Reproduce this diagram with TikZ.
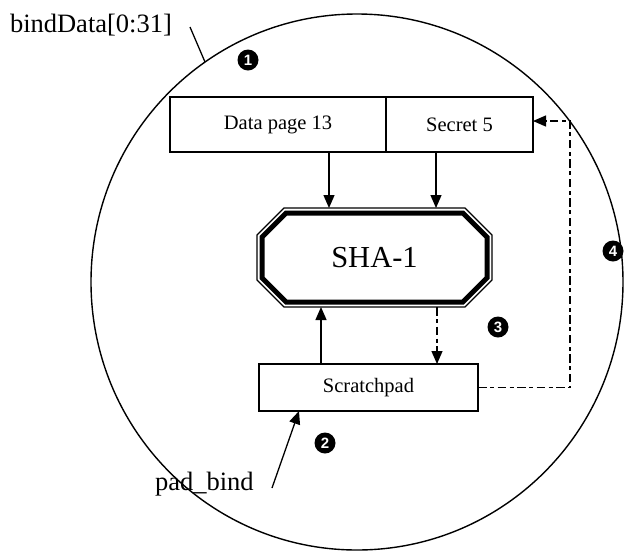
\documentclass[tikz,border=0pt]{standalone}
\usepackage{fontspec}
\setmainfont{Liberation Serif}
\newfontfamily\digitfont{Liberation Sans}
\usetikzlibrary{arrows.meta,calc}

\begin{document}
\begin{tikzpicture}[x=1pt,y=-1pt,
  every node/.style={inner sep=0pt, outer sep=0pt},
  box/.style={draw, line width=1.5pt, font=\fontsize{20.5}{24}\selectfont},
  flow/.style={line width=1.3pt, -{Triangle[length=13pt,width=11pt]}},
  dashdot/.style={dash pattern=on 8.5pt off 3.5pt on 4pt off 3.5pt},
  badge/.style={circle, fill=black, text=white, minimum size=21pt,
    font=\digitfont\bfseries\fontsize{15}{15}\selectfont},
  lbl/.style={font=\fontsize{26.5}{30}\selectfont}
]
\useasboundingbox (0,0) rectangle (625,550);

% enclosing boundary
\draw[line width=1.4pt] (357,282) ellipse [x radius=266pt, y radius=268pt];

% blocks
\node[box, minimum width=216pt, minimum height=55pt] (data) at (278,124.5) {Data page 13};
\node[box, minimum width=147pt, minimum height=55pt] (secret) at (459.5,124.5) {Secret 5};
\node[font=\fontsize{30.5}{34}\selectfont, minimum width=235pt, minimum height=99pt] (sha) at (374.5,257.5) {SHA-1};
\node[box, minimum width=219pt, minimum height=47pt] (scratch) at (368.5,387.5) {Scratchpad};

% octagon frame of the hash engine: thin outer line, thick inner line
\draw[line width=1.3pt, line join=miter]
  (257,235) -- (284,208) -- (465,208) -- (492,235) -- (492,280) -- (465,307) -- (284,307) -- (257,280) -- cycle;
\draw[line width=5pt, line join=miter]
  (262,237.07) -- (286.07,213) -- (462.93,213) -- (487,237.07) -- (487,277.93) -- (462.93,302) -- (286.07,302) -- (262,277.93) -- cycle;

% columns of the vertical connectors
\coordinate (colA) at (329,0);
\coordinate (colB) at (436,0);
\coordinate (colC) at (321,0);
\coordinate (colD) at (437,0);
\coordinate (loopx) at (570,0);
\coordinate (secretin) at ([yshift=3.5pt]secret.east);

\draw[flow] (data.south -| colA) -- (sha.north -| colA);
\draw[flow] (secret.south -| colB) -- (sha.north -| colB);
\draw[flow] (scratch.north -| colC) -- (sha.south -| colC);
\draw[flow, dashdot] (sha.south -| colD) -- (scratch.north -| colD);
\draw[flow, dashdot] (scratch.east) -- (scratch.east -| loopx) -- (secretin -| loopx) -- (secretin);

% external labels
\node[lbl, anchor=base west] (bind) at (10,32) {bindData[0:31]};
\coordinate (bindA) at (190,27);
\coordinate (bindB) at (205,62);
\draw[line width=1.3pt] (bindA) -- (bindB);

\node[lbl, anchor=base west] (pad) at (155,490) {pad\_bind};
\coordinate (padA) at (272,488);
\coordinate (padB) at (299,0);
\draw[flow] (padA) -- (scratch.south -| padB);

% step markers
\node[badge] (n1) at (248,60) {1};
\node[badge] (n2) at (325,443) {2};
\node[badge] (n3) at (498,327) {3};
\node[badge] (n4) at (613,251) {4};
\end{tikzpicture}
\end{document}
